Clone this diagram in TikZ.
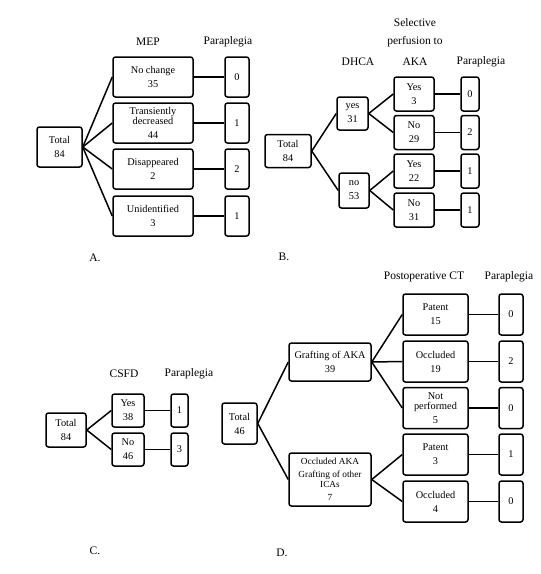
\documentclass[tikz,border=0pt]{standalone}
\usepackage{fontspec}
\setmainfont{Liberation Serif}
\begin{document}
\begin{tikzpicture}[x=1pt,y=-1pt,
  box/.style={draw, line width=1.5pt, rounded corners=2.5pt, align=center, inner sep=0pt,
    font=\fontsize{10.3}{11}\selectfont},
  hdr/.style={font=\fontsize{11.5}{14}\selectfont, align=center, inner sep=0pt},
  con/.style={line width=1.5pt}]
\useasboundingbox (0,0) rectangle (541,574);
% ---------- Panel A
\node[hdr] (hA1) at (148,42) {MEP};
\node[hdr] (hA2) at (228,42) {Paraplegia};
\node[box, minimum width=45pt, minimum height=40pt] (tA) at (59.5,147) {Total\\[3pt]84};
\node[box, minimum width=80pt, minimum height=40pt] (a1) at (153,77) {No change\\[3pt]35};
\node[box, minimum width=80pt, minimum height=40pt] (a2) at (153,123) {Transiently\\[-1.5pt]decreased\\[3pt]44};
\node[box, minimum width=80pt, minimum height=40pt] (a3) at (153,169) {Disappeared\\[3pt]2};
\node[box, minimum width=80pt, minimum height=40pt] (a4) at (153,216) {Unidentified\\[3pt]3};
\node[box, minimum width=24pt, minimum height=40pt] (pa1) at (237,77) {0};
\node[box, minimum width=24pt, minimum height=40pt] (pa2) at (237,123) {1};
\node[box, minimum width=24pt, minimum height=40pt] (pa3) at (237,169) {2};
\node[box, minimum width=24pt, minimum height=40pt] (pa4) at (237,216) {1};
\foreach \i in {1,2,3,4} {
  \draw[con] (tA.east) -- (a\i.west);
  \draw[con] (a\i.east) -- (pa\i.west);
}
\node[hdr] (lA) at (95,258) {A.};
% ---------- Panel B
\node[hdr] (hB0) at (415,23) {Selective};
\node[hdr] (hB1) at (415,42) {perfusion to};
\node[hdr] (hB2) at (415,62) {AKA};
\node[hdr] (hB3) at (358,62) {DHCA};
\node[hdr] (hB4) at (481,62) {Paraplegia};
\node[box, minimum width=46pt, minimum height=33pt] (tB) at (288,151) {Total\\[3pt]84};
\node[box, minimum width=31pt, minimum height=33pt] (b1) at (352.5,113.5) {yes\\[3pt]31};
\node[box, minimum width=30pt, minimum height=35pt] (b2) at (354,190.5) {no\\[3pt]53};
\node[box, minimum width=40pt, minimum height=34pt] (b3) at (414,94) {Yes\\[3pt]3};
\node[box, minimum width=40pt, minimum height=34pt] (b4) at (414,132.5) {No\\[3pt]29};
\node[box, minimum width=40pt, minimum height=34pt] (b5) at (414,171) {Yes\\[3pt]22};
\node[box, minimum width=40pt, minimum height=34pt] (b6) at (414,210) {No\\[3pt]31};
\node[box, minimum width=18pt, minimum height=34pt] (pb3) at (470,94) {0};
\node[box, minimum width=18pt, minimum height=34pt] (pb4) at (470,132.5) {2};
\node[box, minimum width=18pt, minimum height=34pt] (pb5) at (470,171) {1};
\node[box, minimum width=18pt, minimum height=34pt] (pb6) at (470,210) {1};
\draw[con] (tB.east) -- (b1.west);
\draw[con] (tB.east) -- (b2.west);
\draw[con] (b1.east) -- (b3.west);
\draw[con] (b1.east) -- (b4.west);
\draw[con] (b2.east) -- (b5.west);
\draw[con] (b2.east) -- (b6.west);
\foreach \i in {3,4,5,6} { \draw[con] (b\i.east) -- (pb\i.west); }
\node[hdr] (lB) at (284,257) {B.};
% ---------- Panel C
\node[hdr] (hC1) at (124,374) {CSFD};
\node[hdr] (hC2) at (189,374) {Paraplegia};
\node[box, minimum width=40pt, minimum height=34pt] (tC) at (66,430) {Total\\[3pt]84};
\node[box, minimum width=32pt, minimum height=33pt] (c1) at (128,410.5) {Yes\\[3pt]38};
\node[box, minimum width=32pt, minimum height=33pt] (c2) at (128,449.5) {No\\[3pt]46};
\node[box, minimum width=17pt, minimum height=33pt] (pc1) at (179.5,410.5) {1};
\node[box, minimum width=17pt, minimum height=33pt] (pc2) at (179.5,449.5) {3};
\draw[con] (tC.east) -- (c1.west);
\draw[con] (tC.east) -- (c2.west);
\draw[con] (c1.east) -- (pc1.west);
\draw[con] (c2.east) -- (pc2.west);
\node[hdr] (lC) at (95,551) {C.};
% ---------- Panel D
\node[hdr] (hD1) at (424,277) {Postoperative CT};
\node[hdr] (hD2) at (509,277) {Paraplegia};
\node[box, minimum width=35pt, minimum height=41pt] (tD) at (239.5,423.5) {Total\\[3pt]46};
\node[box, minimum width=82pt, minimum height=38pt] (d1) at (330,362) {Grafting of AKA\\[3pt]39};
\node[box, minimum width=82pt, minimum height=53pt, font=\fontsize{9.3}{10}\selectfont] (d2) at (330,479.5) {Occluded AKA\\[3pt]Grafting of other\\ICAs\\[3pt]7};
\node[box, minimum width=65pt, minimum height=41pt] (d3) at (435.5,314.5) {Patent\\[3pt]15};
\node[box, minimum width=65pt, minimum height=41pt] (d4) at (435.5,361.5) {Occluded\\[3pt]19};
\node[box, minimum width=65pt, minimum height=41pt] (d5) at (435.5,408) {Not\\[-1.5pt]performed\\[3pt]5};
\node[box, minimum width=65pt, minimum height=41pt] (d6) at (435.5,454.5) {Patent\\[3pt]3};
\node[box, minimum width=65pt, minimum height=41pt] (d7) at (435.5,501.5) {Occluded\\[3pt]4};
\node[box, minimum width=24pt, minimum height=41pt] (pd3) at (511,314.5) {0};
\node[box, minimum width=24pt, minimum height=41pt] (pd4) at (511,361.5) {2};
\node[box, minimum width=24pt, minimum height=41pt] (pd5) at (511,408) {0};
\node[box, minimum width=24pt, minimum height=41pt] (pd6) at (511,454.5) {1};
\node[box, minimum width=24pt, minimum height=41pt] (pd7) at (511,501.5) {0};
\draw[con] (tD.east) -- (d1.west);
\draw[con] (tD.east) -- (d2.west);
\draw[con] (d1.east) -- (d3.west);
\draw[con] (d1.east) -- (d4.west);
\draw[con] (d1.east) -- (d5.west);
\draw[con] (d2.east) -- (d6.west);
\draw[con] (d2.east) -- (d7.west);
\foreach \i in {3,4,5,6,7} { \draw[con] (d\i.east) -- (pd\i.west); }
\node[hdr] (lD) at (282,553) {D.};
\end{tikzpicture}
\end{document}
